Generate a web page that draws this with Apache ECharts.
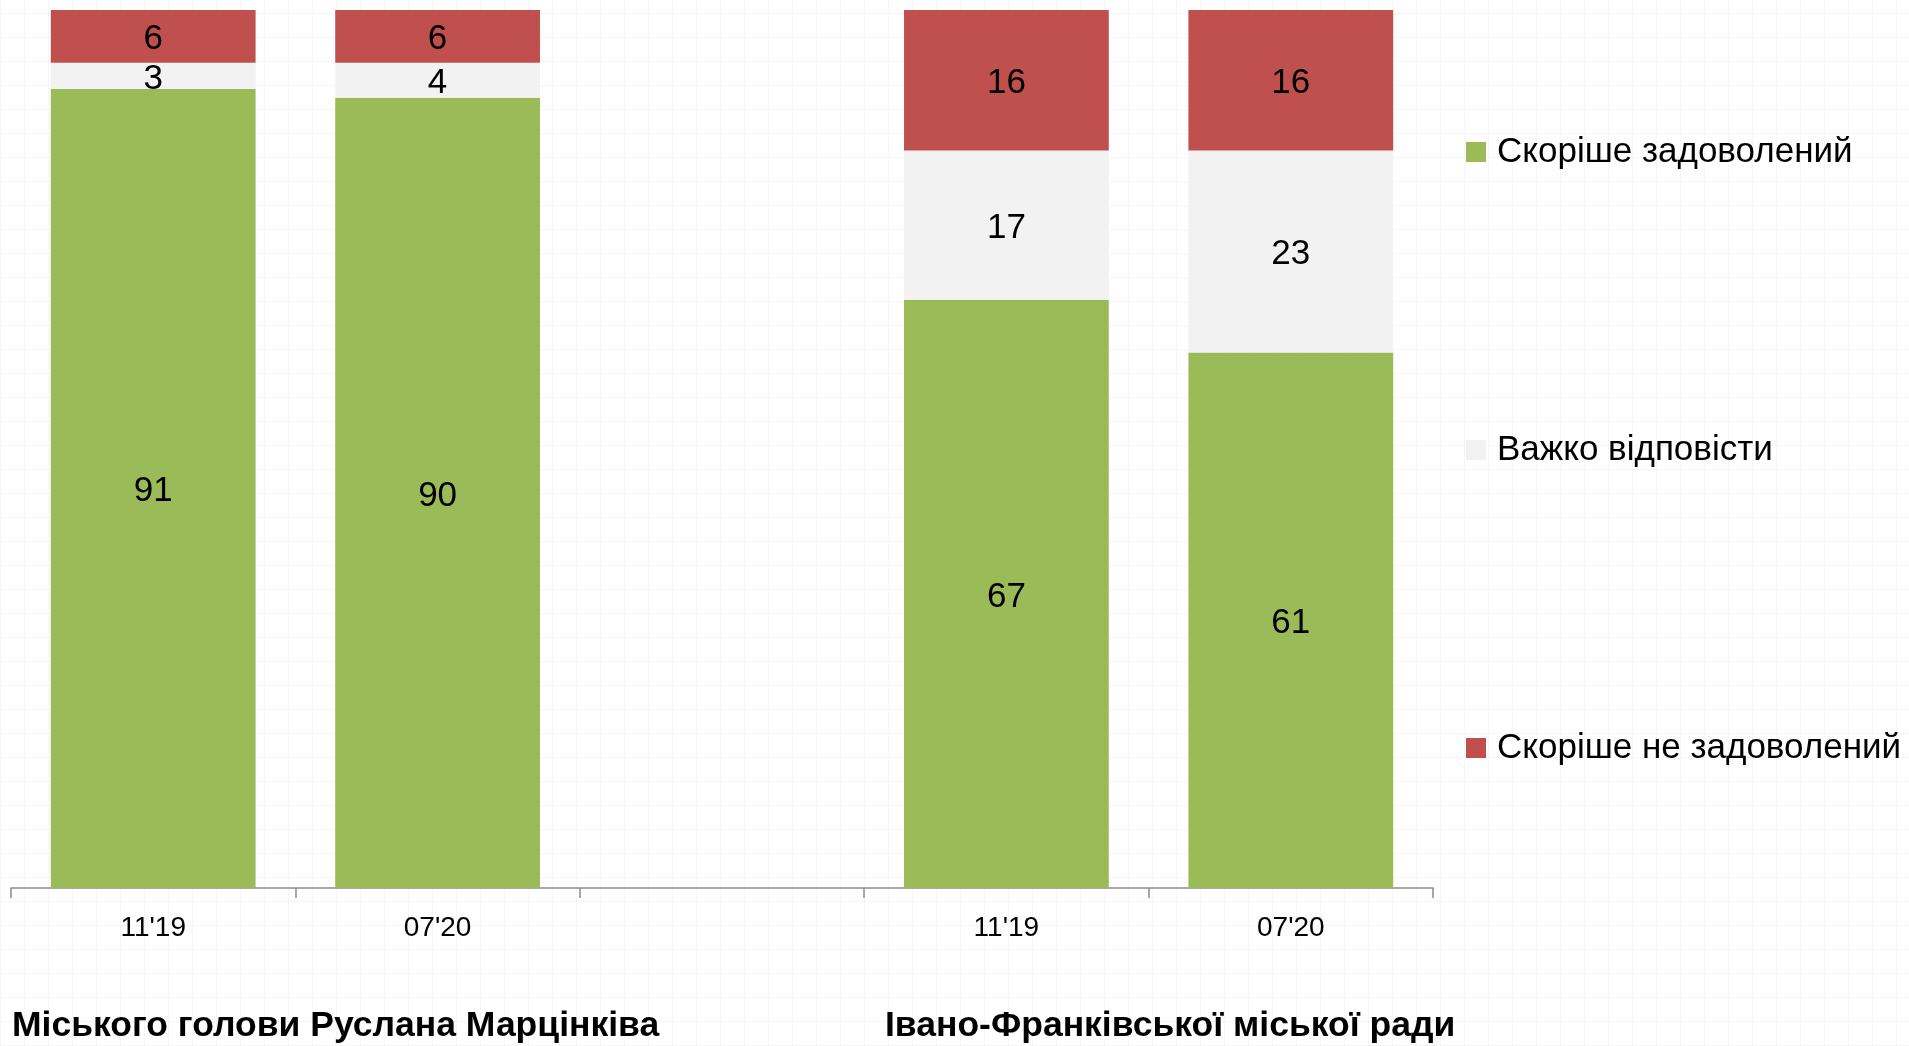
<!DOCTYPE html>
<html>
<head>
<meta charset="utf-8">
<script src="https://cdn.jsdelivr.net/npm/echarts@6/dist/echarts.min.js"></script>
<style>
html,body{margin:0;padding:0;width:1909px;height:1046px;overflow:hidden;
background-color:#fff;
background-image:
 repeating-linear-gradient(0deg, rgba(0,0,0,0.035) 0px, rgba(0,0,0,0.035) 1px, transparent 1px, transparent 24px),
 repeating-linear-gradient(90deg, rgba(0,0,0,0.035) 0px, rgba(0,0,0,0.035) 1px, transparent 1px, transparent 24px);}
#c{width:1909px;height:1046px;}
</style>
</head>
<body>
<div id="c"></div>
<script>
const categories = ["11'19", "07'20", "", "11'19", "07'20"];
const seriesNames = ["Скоріше задоволений", "Важко відповісти", "Скоріше не задоволений"];
const satisfied = [91, 90, '-', 67, 61];
const hardToSay = [3, 4, '-', 17, 23];
const notSatisfied = [6, 6, '-', 16, 16];
const groupLabels = ["Міського голови Руслана Марцінківа", "Івано-Франківської міської ради"];

const FONT = '"Liberation Sans Narrow", "Arial Narrow", "Liberation Sans", sans-serif';
const colors = ['#9BBB59', '#F2F2F2', '#C0504D'];

const chart = echarts.init(document.getElementById('c'), null, {renderer: 'canvas'});

function mk(name, data, color) {
  return {
    name: name, type: 'bar', stack: 'total', data: data,
    barWidth: '72%',
    itemStyle: {color: color},
    label: {show: true, position: 'inside', color: '#000', fontFamily: FONT, fontSize: 35, offset: [0, 3]},
    emphasis: {disabled: true}
  };
}

chart.setOption({
  animation: false,
  backgroundColor: 'transparent',
  textStyle: {fontFamily: FONT},
  grid: {left: 11, right: 476, top: 10, bottom: 158, containLabel: false},
  legend: {
    orient: 'vertical', left: 1461, top: 127,
    itemWidth: 20, itemHeight: 20, itemGap: 258,
    icon: 'rect',
    textStyle: {fontFamily: FONT, fontSize: 35, color: '#000', lineHeight: 40, padding: [0, 0, 0, 6]},
    data: seriesNames
  },
  xAxis: {
    type: 'category', data: categories,
    axisLine: {lineStyle: {color: '#8c8c8c', width: 1.5}},
    axisTick: {show: true, length: 10, lineStyle: {color: '#8c8c8c', width: 1.5}},
    axisLabel: {fontFamily: FONT, fontSize: 28, color: '#000', margin: 26}
  },
  yAxis: {type: 'value', min: 0, max: 100, show: false, splitLine: {show: false}},
  series: [
    mk(seriesNames[0], satisfied, colors[0]),
    mk(seriesNames[1], hardToSay, colors[1]),
    mk(seriesNames[2], notSatisfied, colors[2])
  ],
  graphic: [
    {type: 'text', x: 12, y: 1026, style: {text: groupLabels[0], fontFamily: FONT, fontWeight: 'bold', fontSize: 35.5, fill: '#000', textVerticalAlign: 'middle'}},
    {type: 'text', x: 885, y: 1026, style: {text: groupLabels[1], fontFamily: FONT, fontWeight: 'bold', fontSize: 35.5, fill: '#000', textVerticalAlign: 'middle'}}
  ]
});
</script>
</body>
</html>
